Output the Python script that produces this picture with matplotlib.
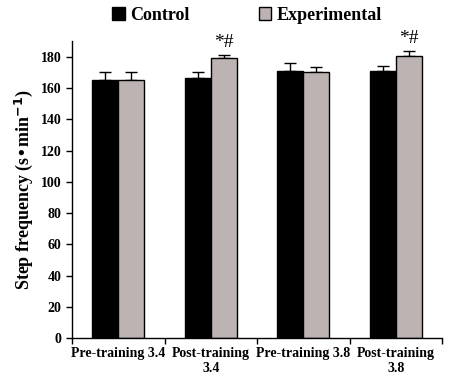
import matplotlib
matplotlib.use("Agg")
import matplotlib.pyplot as plt
import numpy as np
from matplotlib.patches import Patch

categories = ["Pre-training 3.4", "Post-training\n3.4", "Pre-training 3.8", "Post-training\n3.8"]
control = [165.4, 166.2, 171.1, 171.0]
control_err = [4.6, 3.8, 5.1, 3.3]
experimental = [165.0, 179.2, 170.3, 180.7]
experimental_err = [5.5, 1.8, 3.4, 3.2]
annotations = ["", "*#", "", "*#"]
yticks = [0, 20, 40, 60, 80, 100, 120, 140, 160, 180]

plt.rcParams['font.family'] = ['Liberation Serif', 'DejaVu Serif']
plt.rcParams['font.weight'] = 'bold'
plt.rcParams['mathtext.default'] = 'regular'

fig = plt.figure(figsize=(4.62, 3.77), dpi=100)
ax = fig.add_axes([0.156, 0.103, 0.801, 0.788])

x = np.arange(len(categories))
w = 0.28
gray = "#bdb3b3"
ax.bar(x - w/2, control, w, color="black", edgecolor="black", linewidth=1.0, zorder=2)
ax.bar(x + w/2, experimental, w, color=gray, edgecolor="black", linewidth=1.0, zorder=2)
ax.errorbar(x - w/2, control, yerr=[np.zeros(4), control_err], fmt="none", ecolor="black",
            elinewidth=1.0, capsize=4, capthick=1.0, zorder=1)
ax.errorbar(x + w/2, experimental, yerr=[np.zeros(4), experimental_err], fmt="none", ecolor="black",
            elinewidth=1.0, capsize=4, capthick=1.0, zorder=1)
for i, a in enumerate(annotations):
    if a:
        ax.text(x[i] + w/2, experimental[i] + experimental_err[i] + 2.5, a, ha="center", va="bottom",
                fontsize=14, fontweight="normal")

ax.set_xlim(-0.5, len(categories) - 0.5)
ax.set_ylim(0, 190)
ax.set_yticks(yticks)
ax.set_yticklabels([str(t) for t in yticks], fontsize=10, fontweight="bold")
ax.set_xticks(x)
ax.set_xticklabels(categories, fontsize=10, fontweight="bold")
ax.tick_params(axis="x", length=0, pad=6)
ax.set_xticks(np.arange(-0.5, len(categories)), minor=True)
ax.tick_params(axis="x", which="minor", length=4, direction="out", width=1)
ax.tick_params(axis="y", length=4, direction="out", width=1)
for s in ["top", "right"]:
    ax.spines[s].set_visible(False)
for s in ["left", "bottom"]:
    ax.spines[s].set_linewidth(1.0)

ax.set_ylabel("Step frequency (s\u2022min$^{\\mathbf{-1}}$)", fontsize=13, fontweight="bold", labelpad=4)

handles = [Patch(facecolor="black", edgecolor="black", label="Control"),
           Patch(facecolor=gray, edgecolor="black", label="Experimental")]
fig.legend(handles=handles, loc="upper center", bbox_to_anchor=(0.535, 1.025), ncol=2, frameon=False,
           prop={"size": 13, "weight": "bold"}, handlelength=0.7, handleheight=0.7,
           handletextpad=0.3, columnspacing=3.8)

fig.savefig("out.png", dpi=100)
